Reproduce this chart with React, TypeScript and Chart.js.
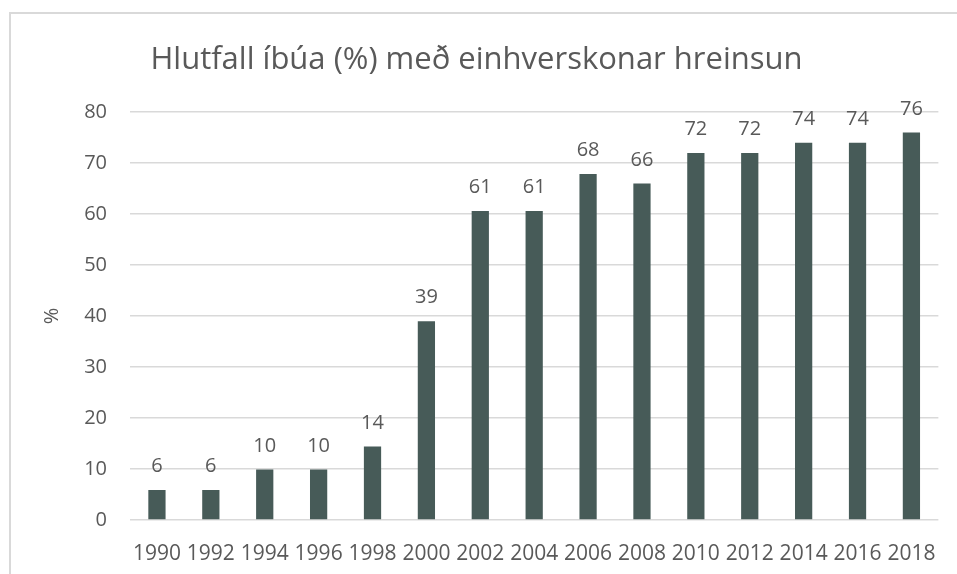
import React, { useEffect, useRef } from "react";
import { Chart, registerables } from "chart.js";

Chart.register(...registerables);

const TITLE = "Hlutfall íbúa (%) með einhverskonar hreinsun";
const Y_LABEL = "%";
const YEARS = ["1990", "1992", "1994", "1996", "1998", "2000", "2002", "2004", "2006", "2008", "2010", "2012", "2014", "2016", "2018"];
const VALUES = [5.9, 5.9, 9.9, 9.9, 14.4, 39, 60.6, 60.6, 67.9, 66, 72, 72, 74, 74, 76];
const Y_MAX = 80;
const Y_STEP = 10;

const BAR_COLOR = "#475b58";
const TEXT_COLOR = "#595959";
const GRID_COLOR = "#d9d9d9";
const FONT = "'Open Sans', 'DejaVu Sans', sans-serif";

const valueLabels = {
  id: "valueLabels",
  afterDatasetsDraw(chart: any) {
    const ctx = chart.ctx;
    const meta = chart.getDatasetMeta(0);
    ctx.save();
    ctx.font = `20px ${FONT}`;
    ctx.fillStyle = TEXT_COLOR;
    ctx.textAlign = "center";
    ctx.textBaseline = "alphabetic";
    meta.data.forEach((bar: any, i: number) => {
      const v = chart.data.datasets[0].data[i] as number;
      ctx.fillText(String(Math.round(v)), bar.x, bar.y - 18);
    });
    ctx.restore();
  },
};

export default function App() {
  const ref = useRef<HTMLCanvasElement | null>(null);

  useEffect(() => {
    if (!ref.current) return;
    const chart = new Chart(ref.current, {
      type: "bar",
      data: {
        labels: YEARS,
        datasets: [
          {
            data: VALUES,
            backgroundColor: BAR_COLOR,
            borderWidth: 0,
            barPercentage: 0.32,
            categoryPercentage: 1,
          },
        ],
      },
      options: {
        animation: false,
        responsive: false,
        devicePixelRatio: 1,
        layout: { padding: { left: 13, right: 17, top: 0, bottom: 0 } },
        plugins: {
          legend: { display: false },
          tooltip: { enabled: false },
          title: {
            display: true,
            text: TITLE,
            color: TEXT_COLOR,
            font: { family: FONT, size: 31, weight: "normal" },
            padding: { top: 42, bottom: 33 },
          },
        },
        scales: {
          x: {
            grid: { display: false, drawTicks: false },
            border: { display: false },
            ticks: {
              color: TEXT_COLOR,
              font: { family: FONT, size: 21 },
              padding: 21,
              maxRotation: 0,
              autoSkip: false,
            },
            afterFit(scale: any) {
              scale.height = 54;
            },
          },
          y: {
            min: 0,
            max: Y_MAX,
            grid: { color: GRID_COLOR, lineWidth: 1.5, drawTicks: false },
            border: { display: false },
            ticks: {
              stepSize: Y_STEP,
              color: TEXT_COLOR,
              font: { family: FONT, size: 20 },
              padding: 23,
            },
            title: {
              display: true,
              text: Y_LABEL,
              color: TEXT_COLOR,
              font: { family: FONT, size: 20 },
              padding: { top: 27, bottom: 0 },
            },
            afterFit(scale: any) {
              scale.width = 117;
            },
          },
        },
      },
      plugins: [valueLabels],
    });
    return () => chart.destroy();
  }, []);

  return (
    <div style={{ position: "fixed", left: 0, top: 0, width: 957, height: 574, background: "#fff", overflow: "hidden" }}>
      <div
        style={{
          position: "absolute",
          left: 9,
          top: 12,
          width: 1000,
          height: 600,
          border: `2px solid ${GRID_COLOR}`,
          boxSizing: "border-box",
        }}
      />
      <canvas ref={ref} width={957} height={574} style={{ position: "absolute", left: 0, top: 0, width: 957, height: 574 }} />
    </div>
  );
}
